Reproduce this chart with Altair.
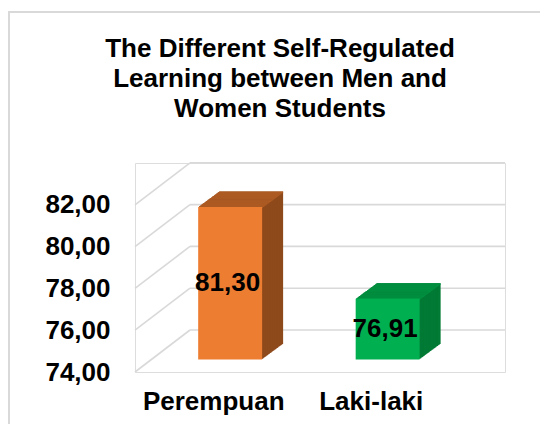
import altair as alt
import pandas as pd

categories = ["Perempuan", "Laki-laki"]
values = [81.30, 76.91]
front_colors = ["#ED7D31", "#00B050"]
top_colors = ["#B35E24", "#009442"]
side_colors = ["#8F4A1C", "#007A35"]
tick_values = [74, 76, 78, 80, 82]
title_lines = ["The Different Self-Regulated", "Learning between Men and", "Women Students"]

FONT = "Liberation Sans"
Y_MIN, Y_MAX = 74, 84

bars = pd.DataFrame({
    "cat": categories,
    "value": values,
    "base": [Y_MIN] * len(values),
    "mid": [(v + Y_MIN) / 2 for v in values],
    "label": [f"{v:.2f}".replace(".", ",") for v in values],
    "front": front_colors,
    "top": top_colors,
    "side": side_colors,
})
ticks = pd.DataFrame({"value": tick_values})

yscale = alt.Scale(domain=[Y_MIN, Y_MAX], nice=False, zero=False)
xscale = alt.Scale(domain=categories, range=[0, 315], paddingInner=0.594, paddingOuter=0.297)

X = alt.X("cat:N", sort=categories, scale=xscale, title=None,
          axis=alt.Axis(labelAngle=0, labelFont=FONT, labelFontWeight="bold",
                        labelFontSize=26, labelColor="#000000", labelPadding=16,
                        ticks=False, domain=False, grid=False))
yaxis = alt.Axis(values=tick_values, labelExpr="replace(format(datum.value, '.2f'), '.', ',')",
                 labelFont=FONT, labelFontWeight="bold", labelFontSize=26,
                 labelColor="#000000", labelPadding=25, ticks=False, domain=False,
                 grid=False)

def Y(field):
    return alt.Y(f"{field}:Q", scale=yscale, title=None, axis=yaxis)

# depth geometry (pixels)
FX, FY = 16.4, -12.5      # front face offset from floor front edge
DX, DY = 21.0, -15.5      # bar depth
N = 24
GRID_DX, GRID_DY = 55, -42

layers = []

# outer frame
frame = alt.Chart(pd.DataFrame({"a": [0]})).mark_rect(
    fill=None, stroke="#D9D9D9", strokeWidth=2
).encode(x=alt.value(-126), x2=alt.value(440), y=alt.value(-151), y2=alt.value(280))
layers.append(frame)

# back wall gridlines
grid_back = alt.Chart(ticks).mark_rule(
    color="#D9D9D9", strokeWidth=1.6, yOffset=GRID_DY
).encode(y=Y("value"), x=alt.value(GRID_DX), x2=alt.value(370))
grid_diag = alt.Chart(ticks).mark_rule(
    color="#D9D9D9", strokeWidth=1.6, y2Offset=GRID_DY
).encode(y=Y("value"), y2="value:Q", x=alt.value(0), x2=alt.value(GRID_DX))
layers += [grid_back, grid_diag]

base = alt.Chart(bars)
for k in range(N, 0, -1):
    ox = FX + k * DX / N
    oy = FY + k * DY / N
    side = base.mark_bar(xOffset=ox, yOffset=oy, y2Offset=oy).encode(
        x=X, y=Y("value"), y2="base:Q", color=alt.Color("side:N", scale=None))
    top = base.mark_bar(xOffset=ox, yOffset=oy, y2Offset=oy - DY / N + 0.8).encode(
        x=X, y=Y("value"), y2="value:Q", color=alt.Color("top:N", scale=None))
    layers += [side, top]

front = base.mark_bar(xOffset=FX, yOffset=FY, y2Offset=FY).encode(
    x=X, y=Y("value"), y2="base:Q", color=alt.Color("front:N", scale=None))
layers.append(front)

labels = base.mark_text(
    font=FONT, fontWeight="bold", fontSize=26, color="#000000",
    dx=FX - 2.5, dy=FY, baseline="middle", align="center"
).encode(x=X, y=Y("mid"), text="label:N")
layers.append(labels)

chart = alt.layer(*layers).properties(
    width=370, height=209,
    title=alt.TitleParams(text=title_lines, font=FONT, fontSize=26, fontWeight="bold",
                          color="#000000", lineHeight=30, anchor="middle", dx=-40,
                          frame="group", offset=-111),
    autosize=alt.AutoSizeParams(type="none"),
    padding={"left": 127, "top": 155, "right": 35, "bottom": 52},
).configure_view(stroke=None).configure(background="#FFFFFF")

chart.save("out.html", embed_options={"renderer": "svg", "actions": False})
